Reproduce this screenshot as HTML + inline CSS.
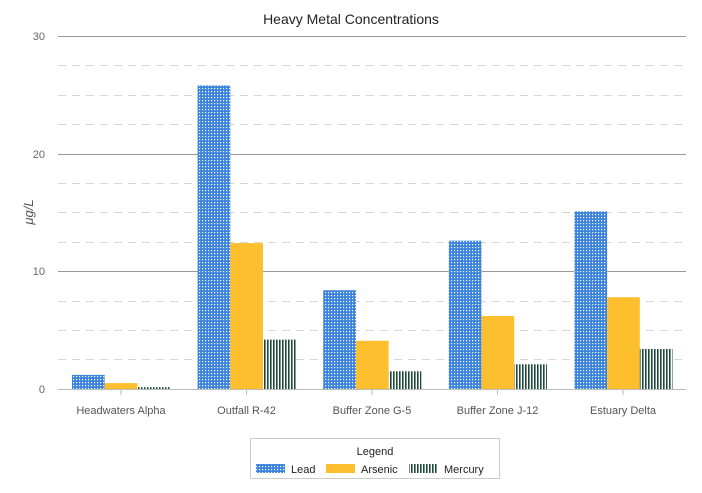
<!DOCTYPE html>
<html><head><meta charset="utf-8"><style>
body{margin:0;background:#fff;}
svg{display:block;font-family:"Liberation Sans",sans-serif;}
</style></head><body>
<svg width="702" height="493" xmlns="http://www.w3.org/2000/svg">
<defs>
<pattern id="dots" width="3" height="3" patternUnits="userSpaceOnUse">
<rect width="3" height="3" fill="#3b83db"/><rect x="1" y="1" width="1.2" height="1.2" fill="#fff"/>
</pattern>
<pattern id="vl" width="3" height="3" patternUnits="userSpaceOnUse">
<rect width="3" height="3" fill="#fff"/><rect width="1.6" height="3" fill="#1e4a3c"/>
</pattern>
</defs>
<text x="351" y="24" text-anchor="middle" font-size="14" fill="#222">Heavy Metal Concentrations</text>
<g stroke="#d6d6d6" stroke-dasharray="8,6" stroke-width="1">
<line x1="58" x2="686" y1="65.5" y2="65.5"/><line x1="58" x2="686" y1="95.5" y2="95.5"/><line x1="58" x2="686" y1="124.5" y2="124.5"/>
<line x1="58" x2="686" y1="183.5" y2="183.5"/><line x1="58" x2="686" y1="212.5" y2="212.5"/><line x1="58" x2="686" y1="242.5" y2="242.5"/>
<line x1="58" x2="686" y1="301.5" y2="301.5"/><line x1="58" x2="686" y1="330.5" y2="330.5"/><line x1="58" x2="686" y1="359.5" y2="359.5"/>
</g>
<g stroke="#999" stroke-width="1">
<line x1="58" x2="686" y1="36.5" y2="36.5"/><line x1="58" x2="686" y1="154.5" y2="154.5"/><line x1="58" x2="686" y1="271.5" y2="271.5"/>
</g>
<g font-size="11" fill="#666" text-anchor="end">
<text x="45" y="40">30</text><text x="45" y="158">20</text><text x="45" y="275">10</text><text x="45" y="393">0</text>
</g>
<text transform="translate(33,212) rotate(-90)" text-anchor="middle" font-size="13" font-style="italic" fill="#555">μg/L</text>
<g>
<rect x="72" y="374.9" width="32.7" height="14.1" fill="url(#dots)"/>
<rect x="104.7" y="383.1" width="32.7" height="5.9" fill="#fdbf2d"/>
<rect x="137.4" y="387.2" width="32.7" height="1.8" fill="url(#vl)"/>
<rect x="197.6" y="85.4" width="32.7" height="303.6" fill="url(#dots)"/>
<rect x="230.3" y="243.1" width="32.7" height="145.9" fill="#fdbf2d"/>
<rect x="263" y="339.6" width="32.7" height="49.4" fill="url(#vl)"/>
<rect x="323.2" y="290.2" width="32.7" height="98.8" fill="url(#dots)"/>
<rect x="355.9" y="340.8" width="32.7" height="48.2" fill="#fdbf2d"/>
<rect x="388.6" y="371.3" width="32.7" height="17.7" fill="url(#vl)"/>
<rect x="448.8" y="240.7" width="32.7" height="148.3" fill="url(#dots)"/>
<rect x="481.5" y="316" width="32.7" height="73" fill="#fdbf2d"/>
<rect x="514.2" y="364.3" width="32.7" height="24.7" fill="url(#vl)"/>
<rect x="574.4" y="211.3" width="32.7" height="177.7" fill="url(#dots)"/>
<rect x="607.1" y="297.2" width="32.7" height="91.8" fill="#fdbf2d"/>
<rect x="639.8" y="349" width="32.7" height="40" fill="url(#vl)"/>
</g>
<line x1="58" x2="686" y1="389.5" y2="389.5" stroke="#bbb"/>
<g stroke="#bbb"><line x1="121" x2="121" y1="390" y2="395"/><line x1="246.5" x2="246.5" y1="390" y2="395"/><line x1="372" x2="372" y1="390" y2="395"/><line x1="497.5" x2="497.5" y1="390" y2="395"/><line x1="623" x2="623" y1="390" y2="395"/></g>
<g font-size="11" fill="#555" text-anchor="middle">
<text x="121" y="414">Headwaters Alpha</text><text x="246.5" y="414">Outfall R-42</text><text x="372" y="414">Buffer Zone G-5</text><text x="497.5" y="414">Buffer Zone J-12</text><text x="623" y="414">Estuary Delta</text>
</g>
<rect x="250.5" y="438.5" width="249" height="40" fill="#fff" stroke="#ccc"/>
<text x="375" y="455" text-anchor="middle" font-size="11" fill="#222">Legend</text>
<rect x="256" y="464" width="29" height="9" fill="url(#dots)"/>
<text x="291" y="473" font-size="11" fill="#222">Lead</text>
<rect x="326" y="464" width="29" height="9" fill="#fdbf2d"/>
<text x="361" y="473" font-size="11" fill="#222">Arsenic</text>
<rect x="409" y="464" width="29" height="9" fill="url(#vl)"/>
<text x="444" y="473" font-size="11" fill="#222">Mercury</text>
</svg>
</body></html>
